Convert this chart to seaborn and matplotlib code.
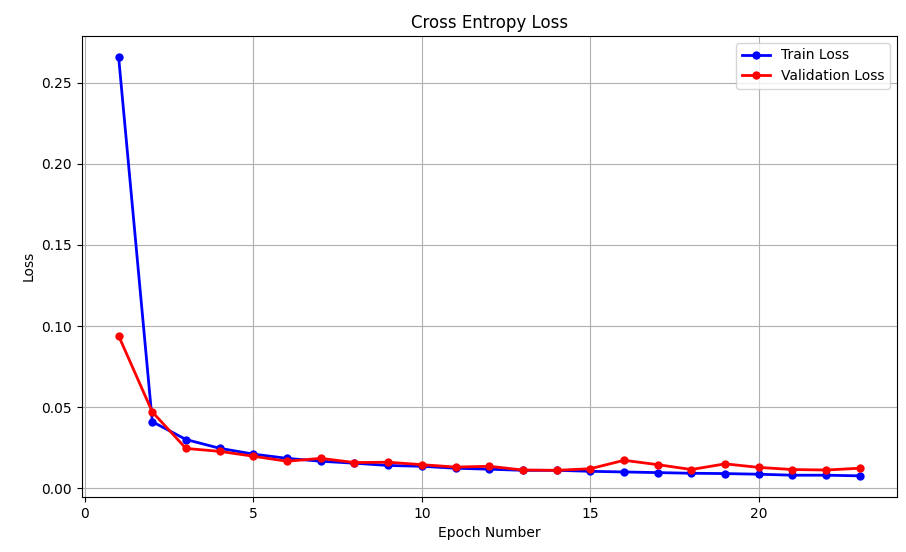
import matplotlib
matplotlib.use("Agg")
import matplotlib.pyplot as plt
import seaborn as sns
import pandas as pd

epochs = list(range(1, 24))
train_loss = [0.266, 0.041, 0.030, 0.0246, 0.021, 0.0184, 0.0166, 0.0154, 0.014, 0.0135,
              0.0123, 0.0117, 0.011, 0.011, 0.0104, 0.0100, 0.0096, 0.0092, 0.0090, 0.0086,
              0.0080, 0.0080, 0.0076]
val_loss = [0.094, 0.047, 0.0245, 0.0227, 0.0197, 0.0166, 0.0184, 0.0158, 0.0160, 0.0145,
            0.0130, 0.0135, 0.0112, 0.0110, 0.0120, 0.0172, 0.0145, 0.0115, 0.0150, 0.0128,
            0.0115, 0.0112, 0.0123]

df = pd.DataFrame({"Epoch": epochs * 2,
                   "Loss": train_loss + val_loss,
                   "Series": ["Train Loss"] * len(epochs) + ["Validation Loss"] * len(epochs)})

fig, ax = plt.subplots(figsize=(9.06, 5.52), dpi=100)
fig.subplots_adjust(left=0.09, right=0.99, top=0.935, bottom=0.1)
sns.lineplot(data=df, x="Epoch", y="Loss", hue="Series",
             palette={"Train Loss": "blue", "Validation Loss": "red"},
             marker="o", markersize=6, markeredgewidth=0, linewidth=2, ax=ax)
ax.set_title("Cross Entropy Loss")
ax.set_xlabel("Epoch Number")
ax.set_ylabel("Loss")
ax.grid(True)
ax.set_xticks([0, 5, 10, 15, 20])
ax.set_yticks([0.0, 0.05, 0.10, 0.15, 0.20, 0.25])
ax.yaxis.set_major_formatter(matplotlib.ticker.FormatStrFormatter("%.2f"))
ax.legend(loc="upper right")
fig.savefig("out.png", dpi=100)
